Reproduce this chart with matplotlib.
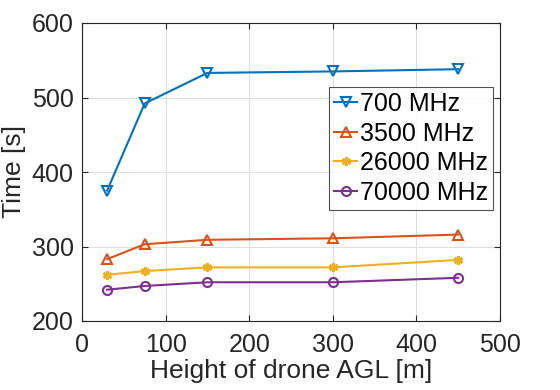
import matplotlib
matplotlib.use("Agg")
import matplotlib.pyplot as plt

# heights of drone AGL [m]
heights = [30, 75, 150, 300, 450]

# time [s] per frequency
t_700 = [375, 492, 533, 535, 538]
t_3500 = [283, 303, 309, 311, 316]
t_26000 = [262, 267, 272, 272, 282]
t_70000 = [242, 247, 252, 252, 258]

labels = ['700 MHz', '3500 MHz', '26000 MHz', '70000 MHz']
x_ticks = [0, 100, 200, 300, 400, 500]
y_ticks = [200, 300, 400, 500, 600]

plt.rcParams['font.family'] = ['Liberation Sans', 'DejaVu Sans']

fig = plt.figure(figsize=(5.6, 3.9), dpi=100)
ax = fig.add_axes([82 / 560, 1 - 321 / 390, 418 / 560, 298 / 390])

ax.plot(heights, t_700, '-v', color='#0072BD', lw=1.5, ms=7, mfc='none', mew=1.5, label=labels[0])
ax.plot(heights, t_3500, '-^', color='#D95319', lw=1.5, ms=7, mfc='none', mew=1.5, label=labels[1])
ax.plot(heights, t_26000, '-', marker=(6, 2, 0), color='#EDB120', lw=1.5, ms=6.5, mew=2.0, label=labels[2])
ax.plot(heights, t_70000, '-o', color='#7E2F8E', lw=1.5, ms=6.5, mfc='none', mew=1.5, label=labels[3])

ax.set_xlim(0, 500)
ax.set_ylim(200, 600)
ax.set_xticks(x_ticks)
ax.set_yticks(y_ticks)
ax.grid(True, color='#dedede', lw=0.8)
ax.set_axisbelow(True)

for s in ax.spines.values():
    s.set_color('#262626')
    s.set_linewidth(0.8)
ax.tick_params(direction='in', length=4, labelsize=18, colors='#262626', top=True, right=True)
ax.tick_params(axis='x', pad=9)
ax.tick_params(axis='y', pad=6)

ax.set_xlabel('Height of drone AGL [m]', fontsize=19, color='#262626', labelpad=1)
ax.set_ylabel('Time [s]', fontsize=19, color='#262626', labelpad=4)

leg = ax.legend(loc='upper right', bbox_to_anchor=(0.983, 0.785), fontsize=18, frameon=True,
                fancybox=False, edgecolor='#262626', handlelength=0.9, handletextpad=0.12,
                borderpad=0.2, labelspacing=0.22, borderaxespad=0)
leg.get_frame().set_linewidth(0.8)

fig.savefig('out.png', dpi=100)
